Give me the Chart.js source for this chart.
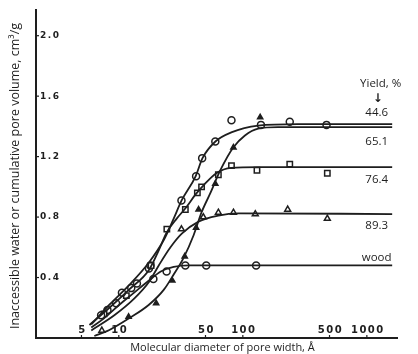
<!DOCTYPE html>
<html>
<head>
<meta charset="utf-8">
<script src="https://cdn.jsdelivr.net/npm/chart.js@4"></script>
<style>
  html, body { margin: 0; background: #fff; }
  #wrap { width: 418px; height: 354px; }
</style>
</head>
<body>
<div id="wrap"><canvas id="chart"></canvas></div>
<script>
// axis ticks
const xTicks = [5, 10, 50, 100, 500, 1000];
const yTicks = [0.4, 0.8, 1.2, 1.6, 2.0];

// yield labels at the right end of each curve
const yieldNames = ['44.6', '65.1', '76.4', '89.3', 'wood'];
const yieldLabelY = [1.49, 1.30, 1.05, 0.74, 0.53];

// fitted curves (x = pore width in Å, y = cm3/g)
const curve446X = [6.0, 8.4, 12.1, 17.5, 23.1, 27.7, 32.1, 41.6, 47.3, 60.1, 80.7, 133, 277, 1600];
const curve446Y = [0.09, 0.22, 0.35, 0.50, 0.65, 0.79, 0.91, 1.07, 1.19, 1.30, 1.36, 1.405, 1.415, 1.415];

const curve651X = [6.35, 8.4, 12.1, 17.5, 23.1, 27.7, 33.3, 40.1, 46.4, 54.8, 65.9, 83.7, 104, 133, 192, 1600];
const curve651Y = [0.013, 0.053, 0.13, 0.22, 0.32, 0.42, 0.53, 0.68, 0.83, 0.96, 1.11, 1.26, 1.34, 1.385, 1.395, 1.395];

const curve764X = [5.8, 8.4, 12.1, 17.5, 21.0, 24.4, 29.3, 34.6, 41.6, 48.2, 61.2, 80.7, 133, 1600];
const curve764Y = [0.086, 0.20, 0.32, 0.45, 0.58, 0.70, 0.79, 0.86, 0.95, 1.01, 1.09, 1.125, 1.13, 1.13];

const curve893X = [6.0, 9.2, 13.3, 17.5, 21.0, 26.1, 32.2, 43.9, 63.5, 91.8, 1600];
const curve893Y = [0.05, 0.15, 0.26, 0.37, 0.48, 0.60, 0.69, 0.77, 0.81, 0.825, 0.82];

const curveWoodX = [6.0, 7.6, 10.1, 13.3, 17.5, 21.8, 27.7, 36.6, 1600];
const curveWoodY = [0.07, 0.13, 0.22, 0.30, 0.38, 0.44, 0.47, 0.48, 0.48];

// measured points
const pts446X = [7.2, 10.6, 14.0, 32, 42, 47, 60, 81, 140, 239, 473];
const pts446Y = [0.15, 0.30, 0.36, 0.91, 1.07, 1.19, 1.30, 1.44, 1.41, 1.43, 1.41];

const pts651X = [12, 20, 27, 34, 42, 44, 60, 84, 138];
const pts651Y = [0.14, 0.23, 0.38, 0.54, 0.73, 0.85, 1.02, 1.26, 1.46];

const pts764X = [7.6, 11.5, 18.2, 24.4, 34.4, 43, 46.5, 63.5, 81, 130, 239, 480];
const pts764Y = [0.16, 0.28, 0.48, 0.72, 0.85, 0.96, 1.00, 1.08, 1.14, 1.11, 1.15, 1.09];

const pts893X = [7.3, 32, 48, 63.5, 84, 126, 230, 480];
const pts893Y = [0.05, 0.72, 0.80, 0.83, 0.83, 0.82, 0.85, 0.79];

const ptsWoodX = [8.1, 9.5, 12.6, 17.5, 18, 19, 24.3, 34.4, 50.7, 128];
const ptsWoodY = [0.185, 0.23, 0.33, 0.46, 0.48, 0.39, 0.44, 0.48, 0.48, 0.48];

const ink = '#1e1e1e';
const zip = (xs, ys) => xs.map((x, i) => ({ x: x, y: ys[i] }));

function curve(xs, ys) {
    return {
        data: zip(xs, ys),
        showLine: true,
        borderColor: ink,
        borderWidth: 1.8,
        pointRadius: 0,
        cubicInterpolationMode: 'monotone',
    };
}

function markers(xs, ys, style, radius, fill) {
    return {
        data: zip(xs, ys),
        showLine: false,
        pointStyle: style,
        pointRadius: radius,
        pointBorderWidth: 1.5,
        pointBorderColor: ink,
        pointBackgroundColor: fill,
    };
}

// ticks, tick labels, titles and yield labels
const decor = {
    id: 'decor',
    afterDraw(chart) {
        const { ctx, scales: { x, y } } = chart;
        ctx.save();
        ctx.fillStyle = ink;
        ctx.strokeStyle = ink;
        ctx.lineWidth = 1.2;

        // x ticks inside, labels above the axis
        ctx.font = 'bold 10px "DejaVu Sans"';
        ctx.letterSpacing = '1.5px';
        ctx.textAlign = 'center';
        ctx.textBaseline = 'bottom';
        xTicks.forEach(v => {
            const px = x.getPixelForValue(v);
            ctx.beginPath();
            ctx.moveTo(px, y.bottom);
            ctx.lineTo(px, y.bottom - 3);
            ctx.stroke();
            ctx.fillText(String(v), px + 1, y.bottom - 3);
        });

        // y ticks inside, labels right of the axis
        ctx.font = 'bold 9px "DejaVu Sans"';
        ctx.letterSpacing = '1.5px';
        ctx.textAlign = 'left';
        ctx.textBaseline = 'middle';
        yTicks.forEach(v => {
            const py = y.getPixelForValue(v);
            ctx.beginPath();
            ctx.moveTo(x.left, py);
            ctx.lineTo(x.left + 3, py);
            ctx.stroke();
            ctx.fillText(v.toFixed(1), x.left + 4, py);
        });
        ctx.letterSpacing = '0px';

        // axis titles
        ctx.textAlign = 'center';
        ctx.textBaseline = 'middle';
        ctx.font = '11px "Open Sans"';
        ctx.fillText('Molecular diameter of pore width, Å', (x.left + x.right) / 2 + 6, y.bottom + 10);
        ctx.save();
        ctx.translate(15, (y.top + y.bottom) / 2 + 2);
        ctx.rotate(-Math.PI / 2);
        ctx.font = '12.5px "Open Sans"';
        ctx.fillText('Inaccessible water or cumulative pore volume, cm³/g', 0, 0);
        ctx.restore();

        // yield labels
        const lx = x.getPixelForValue(1200);
        ctx.font = '11.5px "Open Sans"';
        ctx.fillText('Yield, %', lx + 4, y.getPixelForValue(1.68));
        ctx.font = 'bold 12px "DejaVu Sans"';
        ctx.fillText('↓', lx + 1, y.getPixelForValue(1.58));
        ctx.font = '11.5px "Open Sans"';
        yieldNames.forEach((name, i) => {
            ctx.fillText(name, lx, y.getPixelForValue(yieldLabelY[i]));
        });
        ctx.restore();
    }
};

const ctx = document.getElementById('chart').getContext('2d');
new Chart(ctx, {
    type: 'scatter',
    data: {
        datasets: [
            curve(curve446X, curve446Y),
            curve(curve651X, curve651Y),
            curve(curve764X, curve764Y),
            curve(curve893X, curve893Y),
            curve(curveWoodX, curveWoodY),
            markers(pts446X, pts446Y, 'circle', 3.5, '#fff'),
            markers(pts651X, pts651Y, 'triangle', 3, ink),
            markers(pts764X, pts764Y, 'rect', 3.8, '#fff'),
            markers(pts893X, pts893Y, 'triangle', 3.4, '#fff'),
            markers(ptsWoodX, ptsWoodY, 'circle', 3.5, '#fff'),
        ],
    },
    options: {
        responsive: true,
        maintainAspectRatio: false,
        animation: false,
        layout: { padding: { left: 36, top: 10, right: 21, bottom: 16 } },
        plugins: {
            legend: { display: false },
            tooltip: { enabled: false },
        },
        scales: {
            x: {
                type: 'logarithmic',
                min: 2.15,
                max: 1750,
                ticks: { display: false },
                grid: { display: false, drawTicks: false },
                border: { display: true, color: ink, width: 2 },
            },
            y: {
                min: 0,
                max: 2.17,
                ticks: { display: false },
                grid: { display: false, drawTicks: false },
                border: { display: true, color: ink, width: 2 },
            },
        },
    },
    plugins: [decor],
});
</script>
</body>
</html>
